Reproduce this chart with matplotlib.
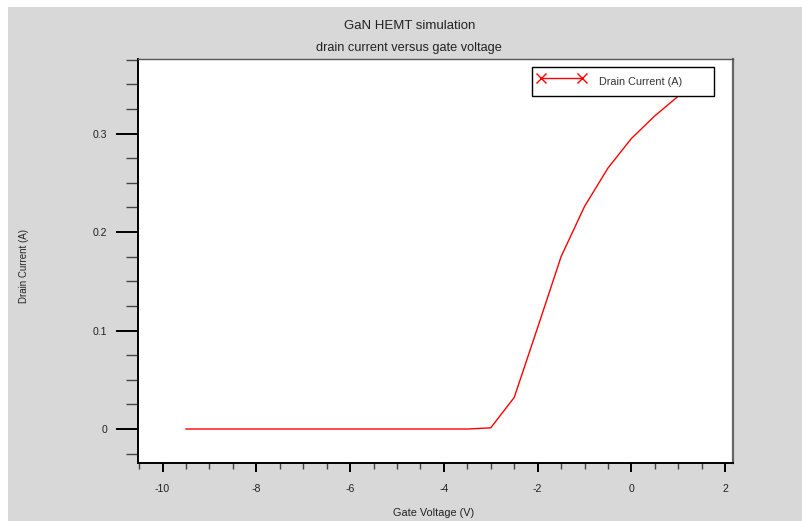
import numpy as np
import matplotlib
matplotlib.use("Agg")
import matplotlib.pyplot as plt
from matplotlib.lines import Line2D
from matplotlib.patches import Rectangle
from matplotlib.ticker import MultipleLocator

plt.rcParams['font.family'] = ['Liberation Sans', 'DejaVu Sans']
plt.rcParams['axes.unicode_minus'] = False

# gate voltage sweep (V) and drain current (A)
gate_voltage = [-9.5, -9.0, -8.5, -8.0, -7.5, -7.0, -6.5, -6.0, -5.5, -5.0,
                -4.5, -4.0, -3.5, -3.0, -2.5, -2.0, -1.5, -1.0, -0.5, 0.0,
                0.5, 1.0, 1.5]
drain_current = [0.0, 0.0, 0.0, 0.0, 0.0, 0.0, 0.0, 0.0, 0.0, 0.0,
                 0.0, 0.0, 0.0, 0.0012, 0.032, 0.103, 0.175, 0.226, 0.265, 0.295,
                 0.318, 0.338, 0.355]

title = "GaN HEMT simulation"
subtitle = "drain current versus gate voltage"
series_name = "Drain Current (A)"

W, H = 802, 521
fig = plt.figure(figsize=(W / 100, H / 100), dpi=100, facecolor='white')
fig.patches.append(Rectangle((8 / W, 0), 1 - 8 / W, 1 - 7 / H, transform=fig.transFigure,
                             facecolor='#d8d8d8', edgecolor='none', zorder=-10))

ax = fig.add_axes([137.7 / W, 1 - 462.7 / H, 595 / W, 403.7 / H])
ax.set_facecolor('white')
ax.plot(gate_voltage, drain_current, color='#ff0000', lw=1.0)

ax.set_xlim(-10.53, 2.16)
ax.set_ylim(-0.0342, 0.3757)
ax.xaxis.set_major_locator(MultipleLocator(2))
ax.xaxis.set_minor_locator(MultipleLocator(0.5))
ax.yaxis.set_major_locator(MultipleLocator(0.1))
ax.yaxis.set_minor_locator(MultipleLocator(0.025))
ax.yaxis.set_major_formatter(matplotlib.ticker.FuncFormatter(
    lambda v, p: '0' if abs(v) < 1e-9 else f'{v:.1f}'))

ax.tick_params(axis='x', which='major', direction='out', length=6.5, width=1.4,
               color='black', pad=9, labelsize=7.6, labelcolor='#222222')
ax.tick_params(axis='x', which='minor', direction='out', length=4, width=1,
               color='#444444')
ax.tick_params(axis='y', which='major', direction='out', length=16, width=1.4,
               color='black', pad=6, labelsize=7.6, labelcolor='#222222')
ax.tick_params(axis='y', which='minor', direction='out', length=8.4, width=1,
               color='#444444')

for side in ('left', 'bottom'):
    ax.spines[side].set_color('black')
    ax.spines[side].set_linewidth(1.4)
ax.spines['top'].set_color('#555555')
ax.spines['top'].set_linewidth(1.0)
ax.spines['right'].set_color('#666666')
ax.spines['right'].set_linewidth(1.6)

handle = Line2D([], [], color='#ff0000', lw=1.0, marker='x', ms=6.5,
                markeredgewidth=1.0)
leg = ax.legend([handle], [series_name], loc='upper left', mode='expand',
                bbox_to_anchor=(0.6627, 0.905, 0.306, 0.076), borderaxespad=0,
                numpoints=2, handlelength=4.4, handletextpad=1.3, handleheight=2.2,
                borderpad=0.5, fancybox=False, framealpha=1, edgecolor='black',
                fontsize=7.8)
leg.get_frame().set_linewidth(1.0)
for t in leg.get_texts():
    t.set_color('#333333')

fig.text(409.5 / W, 1 - 25.7 / H, title, ha='center', va='center', fontsize=9.5,
         color='#222222')
fig.text(409 / W, 1 - 47.7 / H, subtitle, ha='center', va='center', fontsize=9.2,
         color='#222222')
fig.text(434 / W, 1 - 512.7 / H, "Gate Voltage (V)", ha='center', va='center',
         fontsize=7.8, color='#222222')
fig.text(24 / W, 1 - 266 / H, "Drain Current (A)", ha='center', va='center',
         fontsize=7, rotation=90, color='#222222')

fig.savefig('out.png', dpi=100, facecolor=fig.get_facecolor())
